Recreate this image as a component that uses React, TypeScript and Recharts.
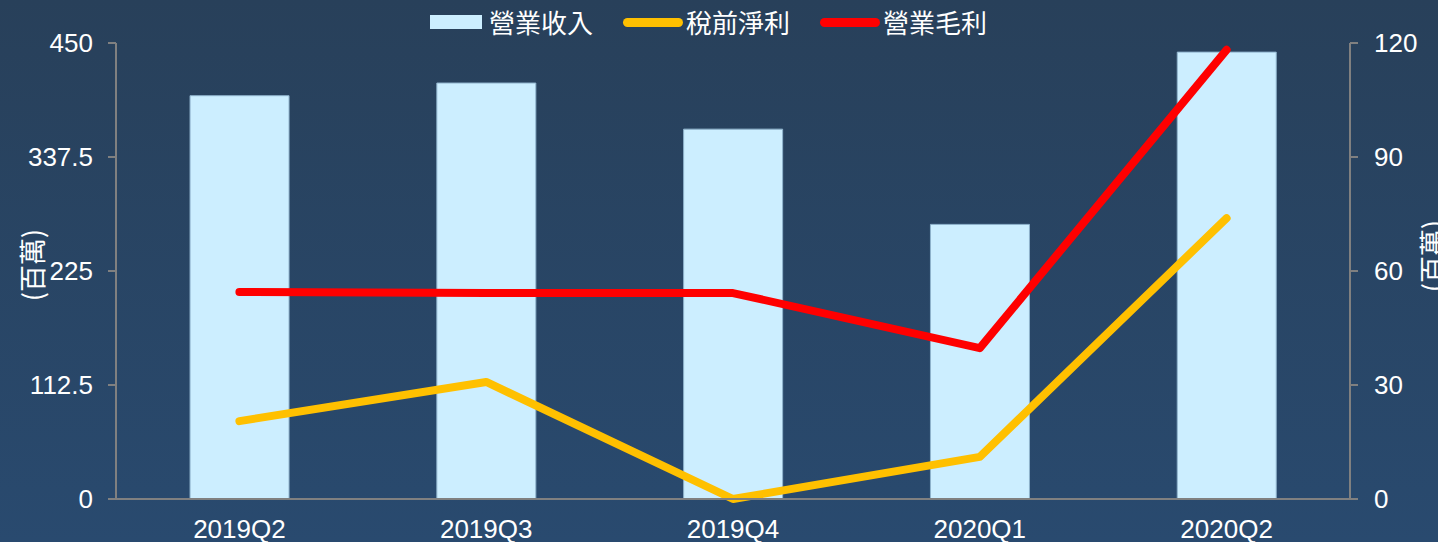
import React from "react";
import { ComposedChart, Bar, Line, XAxis, YAxis } from "recharts";

/** Quarters on the category axis. */
const QUARTERS: string[] = ["2019Q2", "2019Q3", "2019Q4", "2020Q1", "2020Q2"];
/** 營業收入 (left axis, 百萬). */
const REVENUE: number[] = [398, 410.5, 365, 271, 441];
/** 稅前淨利 (right axis, 百萬). */
const PRETAX: number[] = [20.5, 30.8, 0, 11.1, 73.9];
/** 營業毛利 (right axis, 百萬). */
const GROSS: number[] = [54.5, 54.2, 54.2, 39.7, 118.2];

const LEFT_TICKS: number[] = [0, 112.5, 225, 337.5, 450];
const RIGHT_TICKS: number[] = [0, 30, 60, 90, 120];

const SERIES_NAMES = ["營業收入", "稅前淨利", "營業毛利"] as const;
const SERIES_COLORS = ["#cceeff", "#ffc000", "#ff0000"] as const;

const W = 1438;
const H = 542;
const AXIS_GRAY = "#808080";
const LATIN = "'Liberation Sans', Arial, sans-serif";
const CJK = "'Noto Sans CJK TC', 'Noto Sans', sans-serif";
const TICK_STYLE = { fill: "#ffffff", fontSize: 26, fontFamily: LATIN };

const chartData = QUARTERS.map((q, i) => ({
  quarter: q,
  revenue: REVENUE[i],
  pretax: PRETAX[i],
  gross: GROSS[i],
}));

/** Rotated "(百萬)" unit label for either y axis. */
function UnitLabel({ x, y }: { x: number; y: number }): React.JSX.Element {
  return (
    <text
      x={x}
      y={y}
      transform={`rotate(-90 ${x} ${y})`}
      textAnchor="middle"
      dominantBaseline="central"
      fill="#ffffff"
      fontFamily={CJK}
      fontSize={27}
    >
      (百萬)
    </text>
  );
}

/** Legend row drawn above the plot. */
function TopLegend(): React.JSX.Element {
  return (
    <div
      style={{
        position: "absolute",
        top: 6,
        left: 430,
        height: 32,
        display: "flex",
        alignItems: "center",
        fontFamily: CJK,
        fontSize: 26,
        color: "#ffffff",
        lineHeight: "32px",
        whiteSpace: "nowrap",
      }}
    >
      {SERIES_NAMES.map((name, i) => (
        <div key={name} style={{ display: "flex", alignItems: "center", marginRight: i < 2 ? 30 : 0 }}>
          {i === 0 ? (
            <span style={{ width: 52, height: 14, background: SERIES_COLORS[i], marginRight: 7 }} />
          ) : (
            <span style={{ width: 60, height: 9, borderRadius: 5, background: SERIES_COLORS[i], marginRight: 3 }} />
          )}
          <span>{name}</span>
        </div>
      ))}
    </div>
  );
}

export default function App(): React.JSX.Element {
  return (
    <div
      style={{
        position: "absolute",
        left: 0,
        top: 0,
        width: W,
        height: H,
        overflow: "hidden",
        background: "linear-gradient(180deg, #28405a 0%, #294a6f 100%)",
      }}
    >
      <ComposedChart
        width={W}
        height={H}
        data={chartData}
        margin={{ top: 43, right: 0, bottom: 0, left: 0 }}
        barCategoryGap="30%"
      >
        <XAxis
          dataKey="quarter"
          height={43}
          axisLine={{ stroke: AXIS_GRAY, strokeWidth: 2 }}
          tickLine={false}
          tickSize={6}
          tickMargin={15}
          tick={TICK_STYLE}
          interval={0}
        />
        <YAxis
          yAxisId="left"
          width={116}
          domain={[0, 450]}
          ticks={LEFT_TICKS}
          axisLine={{ stroke: AXIS_GRAY, strokeWidth: 2 }}
          tickLine={{ stroke: AXIS_GRAY, strokeWidth: 2 }}
          tickSize={8}
          tickMargin={15}
          tick={TICK_STYLE}
          label={{ content: () => <UnitLabel x={31} y={265} /> }}
        />
        <YAxis
          yAxisId="right"
          orientation="right"
          width={88}
          domain={[0, 120]}
          ticks={RIGHT_TICKS}
          axisLine={{ stroke: AXIS_GRAY, strokeWidth: 2 }}
          tickLine={{ stroke: AXIS_GRAY, strokeWidth: 2 }}
          tickSize={8}
          tickMargin={16}
          tick={TICK_STYLE}
          label={{ content: () => <UnitLabel x={1431} y={256} /> }}
        />
        <Bar
          yAxisId="left"
          dataKey="revenue"
          name={SERIES_NAMES[0]}
          fill={SERIES_COLORS[0]}
          stroke="#8fb3cc"
          strokeWidth={1}
          isAnimationActive={false}
        />
        <Line
          yAxisId="right"
          dataKey="pretax"
          name={SERIES_NAMES[1]}
          stroke={SERIES_COLORS[1]}
          strokeWidth={8}
          strokeLinecap="round"
          strokeLinejoin="round"
          dot={false}
          activeDot={false}
          isAnimationActive={false}
        />
        <Line
          yAxisId="right"
          dataKey="gross"
          name={SERIES_NAMES[2]}
          stroke={SERIES_COLORS[2]}
          strokeWidth={8}
          strokeLinecap="round"
          strokeLinejoin="round"
          dot={false}
          activeDot={false}
          isAnimationActive={false}
        />
      </ComposedChart>
      <TopLegend />
    </div>
  );
}
